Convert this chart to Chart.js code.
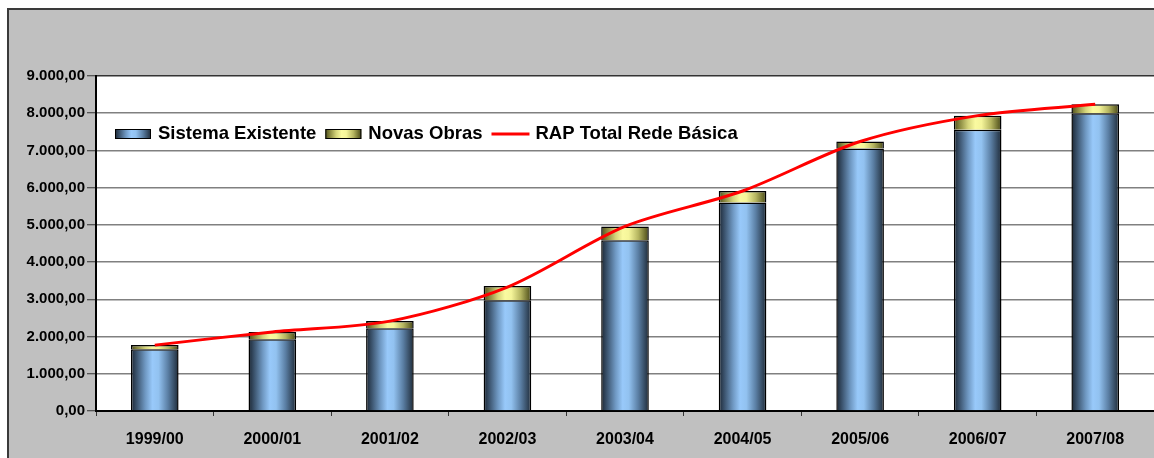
<!DOCTYPE html>
<html>
<head>
<meta charset="utf-8">
<script src="https://cdn.jsdelivr.net/npm/chart.js@4.4.1/dist/chart.umd.min.js"></script>
<style>
  html, body { margin: 0; padding: 0; background: #ffffff; }
  #wrap { position: relative; width: 1154px; height: 458px; }
</style>
</head>
<body>
<div id="wrap"><canvas id="c" width="1154" height="458"></canvas></div>
<script>
const categories = ['1999/00', '2000/01', '2001/02', '2002/03', '2003/04', '2004/05', '2005/06', '2006/07', '2007/08'];
const sistemaExistente = [1660, 1930, 2225, 2975, 4590, 5600, 7055, 7555, 8000];
const novasObras = [110, 195, 190, 385, 365, 310, 185, 380, 240];
const rapTotal = [1770, 2125, 2415, 3330, 4960, 5910, 7240, 7935, 8240];
const yTickLabels = ['0,00', '1.000,00', '2.000,00', '3.000,00', '4.000,00', '5.000,00', '6.000,00', '7.000,00', '8.000,00', '9.000,00'];
const seriesNames = ['Sistema Existente', 'Novas Obras', 'RAP Total Rede Básica'];

const BAR_PCT = 0.405;
const FONT = '"Liberation Sans", Arial, sans-serif';

const blueStops = [[0, '#1b2633'], [0.12, '#3b536d'], [0.3, '#6f98c2'], [0.45, '#98c9fa'], [0.58, '#92c2f0'], [0.78, '#5a7ea3'], [0.92, '#34495f'], [1, '#1d2a38']];
const yellowStops = [[0, '#4d4d1c'], [0.12, '#86863e'], [0.3, '#d4d47a'], [0.45, '#fafaa0'], [0.58, '#f5f59a'], [0.78, '#b5b560'], [0.92, '#6f6f30'], [1, '#45451a']];

function hGrad(ctx, x0, x1, stops) {
  const g = ctx.createLinearGradient(x0, 0, x1, 0);
  stops.forEach(s => g.addColorStop(s[0], s[1]));
  return g;
}

function barFill(stops) {
  return function (context) {
    const chart = context.chart;
    const xs = chart.scales && chart.scales.x;
    if (!xs || context.dataIndex === undefined) return stops[3][1];
    const cx = xs.getPixelForValue(context.dataIndex);
    const w = (xs.width / categories.length) * BAR_PCT;
    if (!isFinite(cx) || !isFinite(w) || w <= 0) return stops[3][1];
    return hGrad(chart.ctx, cx - w / 2, cx + w / 2, stops);
  };
}

const framePlugin = {
  id: 'frame',
  beforeDraw(chart) {
    const ctx = chart.ctx;
    ctx.save();
    ctx.fillStyle = '#ffffff';
    ctx.fillRect(0, 0, chart.width, chart.height);
    ctx.fillStyle = '#c0c0c0';
    ctx.fillRect(9, 10, chart.width - 9, chart.height - 10);
    ctx.strokeStyle = '#3a3a3a';
    ctx.lineWidth = 2;
    ctx.beginPath();
    ctx.moveTo(8, chart.height);
    ctx.lineTo(8, 9);
    ctx.lineTo(chart.width, 9);
    ctx.stroke();
    const a = chart.chartArea;
    ctx.fillStyle = '#ffffff';
    ctx.fillRect(a.left, a.top, a.right - a.left, a.bottom - a.top);
    ctx.restore();
  }
};

const legendPlugin = {
  id: 'customLegend',
  afterDraw(chart) {
    const ctx = chart.ctx;
    ctx.save();
    ctx.font = 'bold 18.5px ' + FONT;
    ctx.textBaseline = 'middle';
    ctx.fillStyle = '#000';
    const cy = 134;
    let x = 115;
    const boxW = 36, boxH = 10;
    [blueStops, yellowStops].forEach((stops, i) => {
      ctx.fillStyle = hGrad(ctx, x, x + boxW, stops);
      ctx.fillRect(x, cy - boxH / 2, boxW, boxH);
      ctx.strokeStyle = '#000';
      ctx.lineWidth = 1;
      ctx.strokeRect(x + 0.5, cy - boxH / 2 + 0.5, boxW - 1, boxH - 1);
      x += boxW + 7;
      ctx.fillStyle = '#000';
      ctx.fillText(seriesNames[i], x, cy);
      x += ctx.measureText(seriesNames[i]).width + 9;
    });
    ctx.strokeStyle = '#ff0000';
    ctx.lineWidth = 3;
    ctx.beginPath();
    ctx.moveTo(x, cy);
    ctx.lineTo(x + 38, cy);
    ctx.stroke();
    x += 38 + 6;
    ctx.fillStyle = '#000';
    ctx.fillText(seriesNames[2], x, cy);
    ctx.restore();
  }
};

new Chart(document.getElementById('c'), {
  data: {
    labels: categories,
    datasets: [
      {
        type: 'bar',
        label: seriesNames[0],
        data: sistemaExistente,
        backgroundColor: barFill(blueStops),
        borderColor: '#000000',
        borderWidth: 1.5,
        barPercentage: BAR_PCT,
        categoryPercentage: 1,
        stack: 'rap',
        order: 1
      },
      {
        type: 'bar',
        label: seriesNames[1],
        data: novasObras,
        backgroundColor: barFill(yellowStops),
        borderColor: '#000000',
        borderWidth: 1.5,
        barPercentage: BAR_PCT,
        categoryPercentage: 1,
        stack: 'rap',
        order: 1
      },
      {
        type: 'line',
        label: seriesNames[2],
        data: rapTotal,
        borderColor: '#ff0000',
        backgroundColor: '#ff0000',
        borderWidth: 3,
        tension: 0.3,
        pointRadius: 0,
        fill: false,
        stack: 'line',
        order: 0
      }
    ]
  },
  options: {
    responsive: false,
    animation: false,
    devicePixelRatio: 1,
    layout: { padding: { top: 76, left: 0, right: 0, bottom: 0 } },
    plugins: {
      legend: { display: false },
      tooltip: { enabled: false },
      title: { display: false }
    },
    scales: {
      x: {
        stacked: true,
        offset: true,
        afterFit(scale) { scale.height = 47; },
        grid: {
          offset: true,
          drawOnChartArea: false,
          drawTicks: true,
          tickLength: 5,
          tickColor: '#333333',
          tickWidth: 1
        },
        border: { display: true, color: '#000000', width: 2 },
        ticks: {
          color: '#000000',
          padding: 14,
          maxRotation: 0,
          autoSkip: false,
          font: { family: FONT, size: 16, weight: 'bold' }
        }
      },
      y: {
        stacked: true,
        min: 0,
        max: 9000,
        afterFit(scale) { scale.width = 96; },
        grid: {
          color: (c) => (c.tick && c.tick.value === 9000 ? '#333333' : '#808080'),
          lineWidth: 1.5,
          drawTicks: true,
          tickLength: 9,
          tickColor: '#333333',
          tickWidth: 1
        },
        border: { display: true, color: '#000000', width: 2 },
        ticks: {
          stepSize: 1000,
          color: '#000000',
          padding: 2,
          font: { family: FONT, size: 15, weight: 'bold' },
          callback: (v, i) => yTickLabels[i]
        }
      }
    }
  },
  plugins: [framePlugin, legendPlugin]
});
</script>
</body>
</html>
